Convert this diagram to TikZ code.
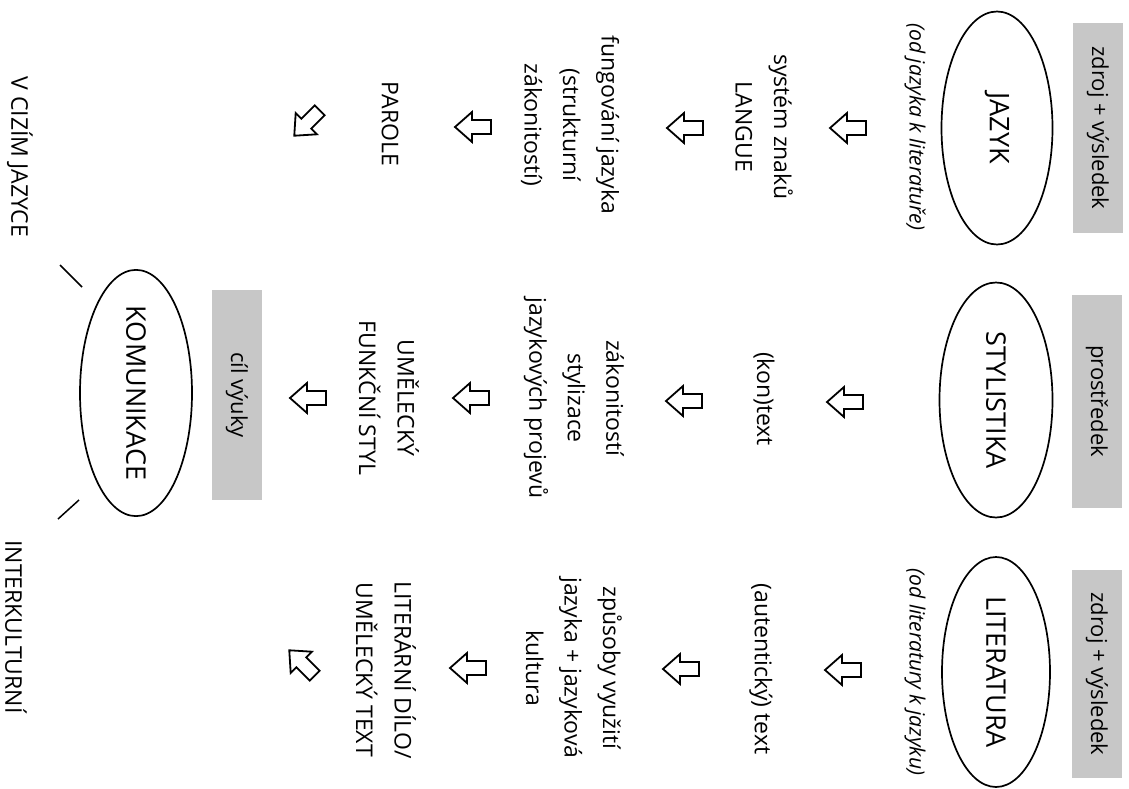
\documentclass[tikz,border=0pt]{standalone}
\usepackage{fontspec}
\setmainfont{Open Sans}
\usetikzlibrary{shapes.geometric}
\begin{document}
\begin{tikzpicture}[x=1pt,y=-1pt,
  lbl/.style={rotate=-90, align=center, font=\fontsize{23}{38.5}\selectfont, inner sep=0pt},
  oval/.style={ellipse, draw, line width=1.7pt, rotate=-90, inner sep=0pt, font=\fontsize{27}{30}\selectfont},
  graybox/.style={fill=black!22, rotate=-90, inner sep=0pt, minimum height=50, font=\fontsize{22}{26}\selectfont},
  note/.style={rotate=-90, font=\fontsize{21}{26}\selectfont\itshape, inner sep=0pt},
  blockarrow/.pic={\draw[line width=1.8pt, line join=miter] (-18,0) -- (-1,-15) -- (-1,-7) -- (18,-7) -- (18,7) -- (-1,7) -- (-1,15) -- cycle;}
]
\useasboundingbox (0,0) rectangle (1129,789);

% gray boxes
\node[graybox, minimum width=210] (g1) at (1098,128) {zdroj + výsledek};
\node[graybox, minimum width=213] (g2) at (1097,401) {prostředek};
\node[graybox, minimum width=208] (g3) at (1097,674) {zdroj + výsledek};
\node[graybox, minimum width=210] (g4) at (237,395) {cíl výuky};

% ellipses
\node[oval, minimum width=233, minimum height=111] (jazyk) at (997,128) {JAZYK};
\node[oval, minimum width=235, minimum height=113] (stylistika) at (996,400) {STYLISTIKA};
\node[oval, minimum width=230, minimum height=108] (literatura) at (996,672) {LITERATURA};
\node[oval, minimum width=233, minimum height=112] (komunikace) at (136,393) {KOMUNIKACE};

% italic notes
\node[note] (n1) at (915,127) {(od jazyka k literatuře)};
\node[note] (n3) at (915,672) {(od literatury k jazyku)};

% row 1
\node[lbl] (t11) at (764,127) {systém znaků\\LANGUE};
\node[lbl] (t12) at (764,399) {(kon)text};
\node[lbl] (t13) at (761,669) {(autentický) text};

% row 3
\node[lbl] (t21) at (570,125) {fungování jazyka\\(strukturní\\zákonitostí)};
\node[lbl] (t22) at (574,398) {zákonitostí\\stylizace\\jazykových projevů};
\node[lbl] (t23) at (574,668) {způsoby využití\\jazyka + jazyková\\kultura};

% row 4
\node[lbl] (t31) at (390,124) {PAROLE};
\node[lbl] (t32) at (389,398) {UMĚLECKÝ\\FUNKČNÍ STYL};
\node[lbl] (t33) at (386,670) {LITERÁRNÍ DÍLO/\\UMĚLECKÝ TEXT};

% bottom labels
\node[lbl] (vcizim) at (20,157) {V CIZÍM JAZYCE};
\node[lbl] (inter) at (16,627) {INTERKULTURNÍ};

% block arrows
\pic at (848,128) {blockarrow};
\pic at (845,402) {blockarrow};
\pic at (843,670) {blockarrow};
\pic at (685,128) {blockarrow};
\pic at (684,401) {blockarrow};
\pic at (681,669) {blockarrow};
\pic at (473,127) {blockarrow};
\pic at (471,398) {blockarrow};
\pic at (468,668) {blockarrow};
\pic[rotate=45] at (307,123) {blockarrow};
\pic at (308,398) {blockarrow};
\pic[rotate=-45] at (302,663) {blockarrow};

% short lines
\coordinate (l1a) at (82,287);
\coordinate (l1b) at (60,265);
\coordinate (l2a) at (79,500);
\coordinate (l2b) at (58,519);
\draw[line width=1.5pt] (l1a) -- (l1b);
\draw[line width=1.5pt] (l2a) -- (l2b);
\end{tikzpicture}
\end{document}
